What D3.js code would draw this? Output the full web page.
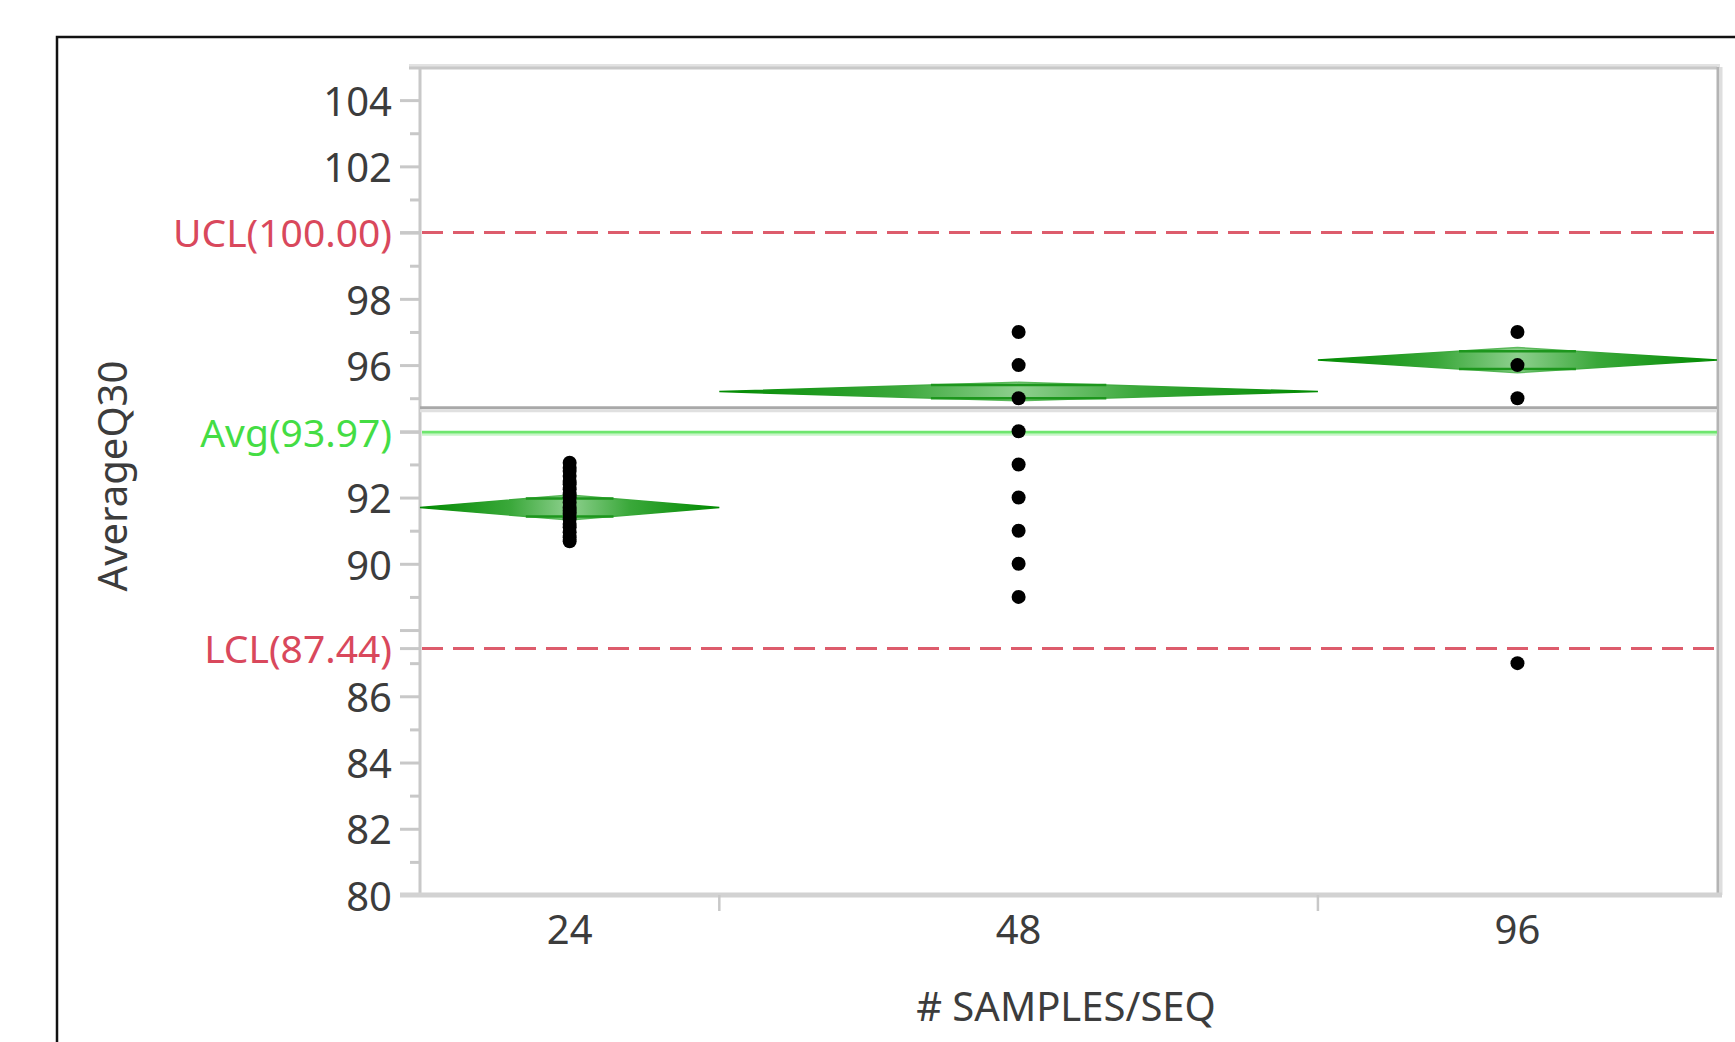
<!DOCTYPE html>
<html>
<head lang="en">
    <meta charset="UTF-8">
    <title>AverageQ30 by # SAMPLES/SEQ</title>
    <script src="https://cdn.jsdelivr.net/npm/d3@7"></script>
    <style>
        body{ margin:0; background:#fff; }
        svg text{ font-family:"Noto Sans","Open Sans",sans-serif; }
        .ytick line{ stroke:#c8c8c8; stroke-width:3px; }
        .ytick text{ fill:#3c3c3c; font-size:40px; }
        .dot{ fill:#000; }
    </style>
</head>
<body>
    <div id="chart"></div>
</body>
</html>
<script>
    // groups on the x axis, width of each band follows its count
    var categories=['24','48','96'];
    var groupCounts=[15,30,20];
    var groupMeans=[91.7,95.2,96.15];
    var groupCI=[0.38,0.28,0.38];
    // individual AverageQ30 values
    var points24=[90.68,90.8,90.95,91.1,91.2,91.35,91.5,91.6,91.7,91.85,92.0,92.1,92.25,92.4,92.5,92.65,92.8,92.9,93.05];
    var points48=[97,96,95,94,93,92,91,90,89];
    var points96=[97,96,95,87];
    var ucl=100.00, lcl=87.44, avg=93.97, grandMean=94.71;
    var yMajor=[80,82,84,86,88,90,92,94,96,98,100,102,104];
    var yMinor=[81,83,85,87,89,91,93,95,97,99,101,103];
    var hiddenLabels=[88,94,100];

    var W=1735,H=1042;
    var pLeft=420,pRight=1717,pTop=67,pBottom=895;

    var svg=d3.select('#chart').append('svg')
            .attr('width',W).attr('height',H);

    // outer box (runs off the picture on the right and bottom)
    svg.append('rect')
            .attr('x',57).attr('y',37)
            .attr('width',W).attr('height',H)
            .attr('fill','none').attr('stroke','#111').attr('stroke-width',2.5);

    var y=d3.scaleLinear().domain([80,105]).range([pBottom,pTop]);
    var cum=[0];
    groupCounts.forEach(function(c,i){ cum.push(cum[i]+c); });
    var x=d3.scaleLinear().domain([0,cum[cum.length-1]]).range([pLeft,pRight]);

    var groups=categories.map(function(c,i){
        return {name:c, x0:x(cum[i]), x1:x(cum[i+1]), cx:(x(cum[i])+x(cum[i+1]))/2,
            mean:groupMeans[i], ci:groupCI[i], pts:[points24,points48,points96][i]};
    });

    // frame
    svg.append('line').attr('x1',409).attr('x2',pRight+3).attr('y1',pTop-1).attr('y2',pTop-1)
            .attr('stroke','#e2e2e2').attr('stroke-width',4);
    svg.append('line').attr('x1',409).attr('x2',pRight).attr('y1',pTop+1).attr('y2',pTop+1)
            .attr('stroke','#c8c8c8').attr('stroke-width',3);
    svg.append('line').attr('x1',pRight+1).attr('x2',pRight+1).attr('y1',pTop).attr('y2',pBottom)
            .attr('stroke','#b4b4b4').attr('stroke-width',3);
    svg.append('line').attr('x1',pRight+4).attr('x2',pRight+4).attr('y1',pTop).attr('y2',pBottom)
            .attr('stroke','#dedede').attr('stroke-width',3);

    // y axis: major and minor ticks
    var yAxis=d3.axisLeft(y).tickValues(yMajor).tickSize(20).tickPadding(8)
            .tickFormat(function(d){ return hiddenLabels.indexOf(d)>=0?'':d; });
    var gy=svg.append('g').attr('class','ytick').attr('transform','translate('+pLeft+',0)').call(yAxis);
    gy.select('.domain').remove();
    gy.selectAll('text').attr('dy','0.38em');
    var gm=svg.append('g').attr('class','ytick').attr('transform','translate('+pLeft+',0)')
            .call(d3.axisLeft(y).tickValues(yMinor).tickSize(10).tickFormat(''));
    gm.select('.domain').remove();

    // control limit and average labels on the axis
    var refs=[
        {v:ucl, text:'UCL('+ucl.toFixed(2)+')', color:'#d9485c'},
        {v:avg, text:'Avg('+avg.toFixed(2)+')', color:'#44dd44'},
        {v:lcl, text:'LCL('+lcl.toFixed(2)+')', color:'#d9485c'}
    ];
    svg.selectAll('.reflab').data(refs).enter().append('text')
            .attr('x',392).attr('y',function(d){ return y(d.v); })
            .attr('dy','0.38em').attr('text-anchor','end')
            .style('font-size','39px')
            .style('fill',function(d){ return d.color; })
            .text(function(d){ return d.text; });
    svg.selectAll('.reftick').data(refs).enter().append('line')
            .attr('x1',400).attr('x2',pLeft)
            .attr('y1',function(d){ return y(d.v); }).attr('y2',function(d){ return y(d.v); })
            .attr('stroke','#c8c8c8').attr('stroke-width',3);

    // axis lines
    svg.append('line').attr('x1',pLeft).attr('x2',pLeft).attr('y1',pTop).attr('y2',pBottom)
            .attr('stroke','#c8c8c8').attr('stroke-width',3);
    svg.append('line').attr('x1',400).attr('x2',pRight+5).attr('y1',pBottom).attr('y2',pBottom)
            .attr('stroke','#d2d2d2').attr('stroke-width',5);

    // x axis: separators between groups and labels
    svg.selectAll('.sep').data(cum.slice(1,cum.length-1)).enter().append('line')
            .attr('x1',function(d){ return x(d); }).attr('x2',function(d){ return x(d); })
            .attr('y1',pBottom).attr('y2',pBottom+16)
            .attr('stroke','#c8c8c8').attr('stroke-width',2.5);
    svg.selectAll('.xlab').data(groups).enter().append('text')
            .attr('x',function(d){ return d.cx; }).attr('y',930)
            .attr('dy','0.36em').attr('text-anchor','middle')
            .style('font-size','40px').style('fill','#3c3c3c')
            .text(function(d){ return d.name; });

    // axis titles
    svg.append('text').attr('x',1066).attr('y',1007).attr('dy','0.36em')
            .attr('text-anchor','middle').style('font-size','40px').style('fill','#3c3c3c')
            .text('# SAMPLES/SEQ');
    svg.append('text').attr('transform','translate(113,476) rotate(-90)').attr('dy','0.36em')
            .attr('text-anchor','middle').style('font-size','40px').style('fill','#3c3c3c')
            .text('AverageQ30');

    var plot=svg.append('g');

    // grand mean line
    plot.append('line').attr('x1',pLeft).attr('x2',pRight).attr('y1',y(grandMean)).attr('y2',y(grandMean))
            .attr('stroke','#a8a8a8').attr('stroke-width',3);
    plot.append('line').attr('x1',pLeft).attr('x2',pRight).attr('y1',y(grandMean)+3).attr('y2',y(grandMean)+3)
            .attr('stroke','#e0e0e0').attr('stroke-width',3);

    // control limits and average
    plot.selectAll('.lim').data([ucl,lcl]).enter().append('line')
            .attr('x1',pLeft+2).attr('x2',pRight)
            .attr('y1',function(d){ return y(d); }).attr('y2',function(d){ return y(d); })
            .attr('stroke','#dd5c6c').attr('stroke-width',3).attr('stroke-dasharray','21,10');
    plot.append('line').attr('x1',pLeft+2).attr('x2',pRight).attr('y1',y(avg)).attr('y2',y(avg))
            .attr('stroke','#6ee66e').attr('stroke-width',3);
    plot.append('line').attr('x1',pLeft+2).attr('x2',pRight).attr('y1',y(avg)+2.5).attr('y2',y(avg)+2.5)
            .attr('stroke','#c8f5c8').attr('stroke-width',2);

    // means diamonds
    var defs=svg.append('defs');
    var gFill=defs.append('linearGradient').attr('id','dfill');
    gFill.append('stop').attr('offset','0%').attr('stop-color','#008a00');
    gFill.append('stop').attr('offset','30%').attr('stop-color','#3aa83a');
    gFill.append('stop').attr('offset','50%').attr('stop-color','#8ed08e');
    gFill.append('stop').attr('offset','70%').attr('stop-color','#3aa83a');
    gFill.append('stop').attr('offset','100%').attr('stop-color','#008a00');
    var gLine=defs.append('linearGradient').attr('id','dline');
    gLine.append('stop').attr('offset','0%').attr('stop-color','#008a00');
    gLine.append('stop').attr('offset','30%').attr('stop-color','#6cc06c');
    gLine.append('stop').attr('offset','50%').attr('stop-color','#e2f4e2');
    gLine.append('stop').attr('offset','70%').attr('stop-color','#6cc06c');
    gLine.append('stop').attr('offset','100%').attr('stop-color','#008a00');
    var gEdge=defs.append('linearGradient').attr('id','dedge');
    gEdge.append('stop').attr('offset','0%').attr('stop-color','#008a00');
    gEdge.append('stop').attr('offset','50%').attr('stop-color','#5fbb5f');
    gEdge.append('stop').attr('offset','100%').attr('stop-color','#008a00');

    var dg=plot.selectAll('.diamond').data(groups).enter().append('g').attr('class','diamond');
    dg.append('path')
            .attr('d',function(d){
                return 'M'+d.x0+','+y(d.mean)+'L'+d.cx+','+y(d.mean+d.ci)+'L'+d.x1+','+y(d.mean)
                        +'L'+d.cx+','+y(d.mean-d.ci)+'Z';
            })
            .attr('fill','url(#dfill)').attr('stroke','url(#dedge)').attr('stroke-width',1.5);
    dg.append('line')
            .attr('x1',function(d){ return d.x0; }).attr('x2',function(d){ return d.x1; })
            .attr('y1',function(d){ return y(d.mean); }).attr('y2',function(d){ return y(d.mean); })
            .attr('stroke','url(#dline)').attr('stroke-width',3);
    [1,-1].forEach(function(s){
        dg.append('line')
                .attr('x1',function(d){ return d.cx-(d.x1-d.x0)/2*0.293; })
                .attr('x2',function(d){ return d.cx+(d.x1-d.x0)/2*0.293; })
                .attr('y1',function(d){ return y(d.mean+s*d.ci/Math.SQRT2); })
                .attr('y2',function(d){ return y(d.mean+s*d.ci/Math.SQRT2); })
                .attr('stroke','#1d961d').attr('stroke-width',2.5);
    });

    // points
    groups.forEach(function(g){
        plot.selectAll(null).data(g.pts).enter().append('circle')
                .attr('class','dot')
                .attr('cx',g.cx).attr('cy',function(d){ return y(d); })
                .attr('r',7);
    });
</script>
